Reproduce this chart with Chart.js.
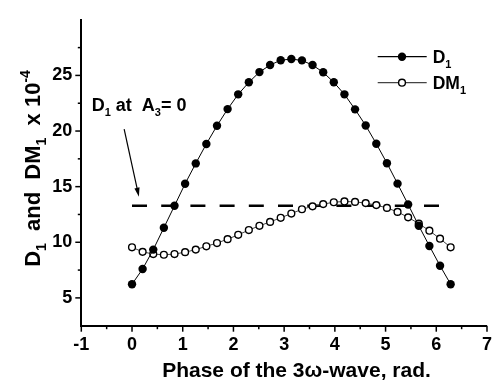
<!DOCTYPE html>
<html><head><meta charset="utf-8">
<script src="https://cdn.jsdelivr.net/npm/chart.js@4.4.0/dist/chart.umd.min.js"></script>
<style>html,body{margin:0;padding:0;background:#fff}#wrap{width:501px;height:380px;position:relative}</style>
</head><body><div id="wrap"><canvas id="c" width="501" height="380"></canvas></div>
<script>
// Phase of the 3ω-wave (rad.)
const phase = [0, 0.209, 0.419, 0.628, 0.838, 1.047, 1.257, 1.466, 1.676, 1.885, 2.094,
  2.304, 2.513, 2.723, 2.932, 3.142, 3.351, 3.560, 3.770, 3.979, 4.189,
  4.398, 4.608, 4.817, 5.027, 5.236, 5.445, 5.655, 5.864, 6.074, 6.283];
// D1 (x 10^-4)
const d1 = [6.23, 7.6, 9.34, 11.3, 13.28, 15.26, 17.09, 18.84, 20.48, 21.97, 23.3,
  24.38, 25.3, 25.93, 26.37, 26.47, 26.35, 25.93, 25.28, 24.38, 23.3,
  21.95, 20.5, 18.86, 17.11, 15.27, 13.4, 11.48, 9.67, 7.89, 6.23];
// DM1 (x 10^-4)
const dm1 = [9.55, 9.14, 8.94, 8.88, 8.94, 9.11, 9.34, 9.64, 9.93, 10.28, 10.67,
  11.1, 11.48, 11.83, 12.2, 12.58, 12.97, 13.23, 13.43, 13.6, 13.67,
  13.63, 13.52, 13.34, 13.09, 12.73, 12.24, 11.68, 11.04, 10.32, 9.55];
// D1 at A3 = 0 (reference level)
const refPhase = [0, 6.283];
const refLevel = [13.28, 13.28];
// axis ranges / tick labels
const xRange = [-1, 7];
const yRange = [2.5, 30];
const xTickLabels = [-1, 0, 1, 2, 3, 4, 5, 6, 7];
const yTickLabels = [5, 10, 15, 20, 25];
// annotation arrow (data coordinates): from -> to
const arrowFrom = [-0.155, 20.17];
const arrowTo = [0.136, 14.1];

const FONT = '"Liberation Sans", Arial, sans-serif';

function drawRich(ctx, x, y, segs, size) {
  let cx = x;
  segs.forEach(s => {
    const t = s[0], k = s[1] || 'n';
    let fs = size, dy = 0;
    if (k === 'sub') { fs = Math.round(size * 0.62); dy = size * 0.3; }
    if (k === 'sup') { fs = Math.round(size * 0.62); dy = -size * 0.42; }
    ctx.font = 'bold ' + fs + 'px ' + FONT;
    ctx.fillText(t, cx, y + dy);
    cx += ctx.measureText(t).width;
  });
  return cx - x;
}
function richWidth(ctx, segs, size) {
  let w = 0;
  segs.forEach(s => {
    const k = s[1] || 'n';
    const fs = k === 'n' ? size : Math.round(size * 0.62);
    ctx.font = 'bold ' + fs + 'px ' + FONT;
    w += ctx.measureText(s[0]).width;
  });
  return w;
}

const decoPlugin = {
  id: 'deco',
  afterDraw(chart) {
    const ctx = chart.ctx, xs = chart.scales.x, ys = chart.scales.y;
    ctx.save();
    // tick marks (outside)
    ctx.strokeStyle = '#000'; ctx.lineWidth = 1.5;
    xs.ticks.forEach(t => {
      const px = xs.getPixelForValue(t.value);
      const major = xTickLabels.includes(t.value);
      ctx.beginPath(); ctx.moveTo(px, xs.top); ctx.lineTo(px, xs.top + (major ? 6 : 3.5)); ctx.stroke();
    });
    ys.ticks.forEach(t => {
      if (t.value <= yRange[0] || t.value >= yRange[1]) return;
      const py = ys.getPixelForValue(t.value);
      const major = yTickLabels.includes(t.value);
      ctx.beginPath(); ctx.moveTo(ys.right, py); ctx.lineTo(ys.right - (major ? 6 : 3.5), py); ctx.stroke();
    });

    ctx.fillStyle = '#000';
    ctx.textBaseline = 'alphabetic';
    ctx.textAlign = 'left';
    // x title
    const xt = [['Phase of the 3ω-wave, rad.']];
    const xw = richWidth(ctx, xt, 21);
    drawRich(ctx, 296.5 - xw / 2, 376.5, xt, 21);

    // y title (rotated)
    const yt = [['D'], ['1', 'sub'], ['  and  '], ['DM'], ['1', 'sub'], ['  x 10'], ['-4', 'sup']];
    const yw = richWidth(ctx, yt, 22);
    ctx.save();
    ctx.translate(39.5, 168.5 + yw / 2);
    ctx.rotate(-Math.PI / 2);
    drawRich(ctx, 0, 0, yt, 22);
    ctx.restore();

    // annotation text
    drawRich(ctx, 91.7, 111, [['D'], ['1', 'sub'], [' at  A'], ['3', 'sub'], ['= 0']], 18);
    // arrow
    const ax0 = xs.getPixelForValue(arrowFrom[0]), ay0 = ys.getPixelForValue(arrowFrom[1]);
    const ax1 = xs.getPixelForValue(arrowTo[0]), ay1 = ys.getPixelForValue(arrowTo[1]);
    const ang = Math.atan2(ay1 - ay0, ax1 - ax0);
    ctx.lineWidth = 1.2;
    ctx.beginPath(); ctx.moveTo(ax0, ay0);
    ctx.lineTo(ax1 - 6 * Math.cos(ang), ay1 - 6 * Math.sin(ang)); ctx.stroke();
    ctx.beginPath();
    ctx.moveTo(ax1, ay1);
    ctx.lineTo(ax1 - 9 * Math.cos(ang) + 2.6 * Math.sin(ang), ay1 - 9 * Math.sin(ang) - 2.6 * Math.cos(ang));
    ctx.lineTo(ax1 - 9 * Math.cos(ang) - 2.6 * Math.sin(ang), ay1 - 9 * Math.sin(ang) + 2.6 * Math.cos(ang));
    ctx.closePath(); ctx.fill();

    // legend
    const ds = chart.data.datasets;
    const rows = [[ds[0], 56.7, [['D'], ['1', 'sub']]], [ds[1], 82.7, [['DM'], ['1', 'sub']]]];
    rows.forEach(r => {
      const d = r[0], y = r[1];
      ctx.strokeStyle = d.borderColor; ctx.lineWidth = 1.2;
      ctx.beginPath(); ctx.moveTo(377.7, y); ctx.lineTo(426.7, y); ctx.stroke();
      ctx.beginPath(); ctx.arc(402, y, d.pointRadius, 0, Math.PI * 2);
      ctx.fillStyle = d.pointBackgroundColor; ctx.fill();
      if (d.pointBorderWidth) { ctx.strokeStyle = d.pointBorderColor; ctx.lineWidth = d.pointBorderWidth; ctx.stroke(); }
      ctx.fillStyle = '#000';
      drawRich(ctx, 432.7, y + 6, r[2], 17.5);
    });
    ctx.restore();
  }
};

const toXY = (xa, ya) => xa.map((v, i) => ({ x: v, y: ya[i] }));

new Chart(document.getElementById('c'), {
  type: 'line',
  data: {
    datasets: [
      { label: 'D1', data: toXY(phase, d1), borderColor: '#000', borderWidth: 1,
        pointRadius: 4.2, pointBackgroundColor: '#000', pointBorderColor: '#000', pointBorderWidth: 0,
        pointHoverRadius: 4.2, tension: 0 },
      { label: 'DM1', data: toXY(phase, dm1), borderColor: '#444', borderWidth: 1,
        pointRadius: 3.4, pointBackgroundColor: '#fff', pointBorderColor: '#000', pointBorderWidth: 1.4,
        pointHoverRadius: 3.4, tension: 0 },
      { label: 'D1 at A3 = 0', data: toXY(refPhase, refLevel), borderColor: '#000', borderWidth: 2.6,
        borderDash: [15, 14.2], pointRadius: 0, borderCapStyle: 'butt' }
    ]
  },
  options: {
    responsive: false, animation: false, devicePixelRatio: 1,
    layout: { padding: { left: 0, right: 6.7, top: 11.7, bottom: 0 } },
    plugins: { legend: { display: false }, tooltip: { enabled: false } },
    events: [],
    scales: {
      x: {
        type: 'linear', min: xRange[0], max: xRange[1],
        afterFit(s) { s.height = 54.3; },
        border: { display: true, color: '#000', width: 2 },
        grid: { display: true, drawOnChartArea: false, drawTicks: false, color: 'rgba(0,0,0,0)' },
        ticks: { stepSize: 0.5, autoSkip: false, maxRotation: 0, padding: 9, color: '#000',
          font: { family: FONT, size: 18, weight: 'bold' },
          callback: v => xTickLabels.includes(v) ? String(v) : '' }
      },
      y: {
        type: 'linear', min: yRange[0], max: yRange[1],
        afterFit(s) { s.width = 81.3; },
        border: { display: true, color: '#000', width: 2 },
        grid: { display: true, drawOnChartArea: false, drawTicks: false, color: 'rgba(0,0,0,0)' },
        ticks: { stepSize: 2.5, autoSkip: false, padding: 9, color: '#000',
          font: { family: FONT, size: 18, weight: 'bold' },
          callback: v => yTickLabels.includes(v) ? String(v) : '' }
      }
    }
  },
  plugins: [decoPlugin]
});
</script></body></html>
